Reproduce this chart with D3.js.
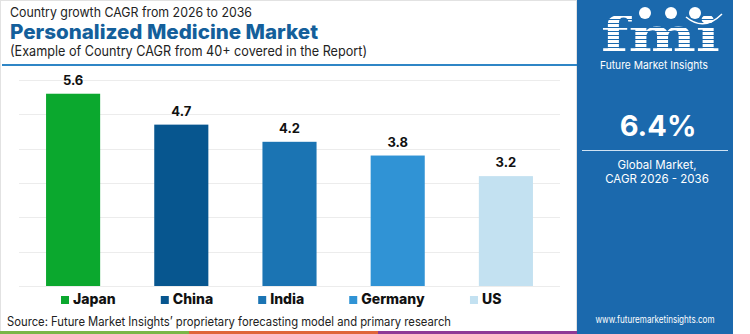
<!DOCTYPE html>
<html>
<head>
<meta charset="utf-8">
<script src="https://cdn.jsdelivr.net/npm/d3@7"></script>
<style>
  body { margin: 0; background: #fff; }
  svg { display: block; font-family: Inter, "Open Sans", sans-serif; }
</style>
</head>
<body>
<div id="chart"></div>
<script>
// country CAGR values
const countries = ["Japan", "China", "India", "Germany", "US"];
const cagr = [5.6, 4.7, 4.2, 3.8, 3.2];
const barColors = ["#0ba82e", "#07568f", "#1b74b3", "#3093d5", "#c3e1f1"];
const yTicks = [0, 1, 2, 3, 4, 5, 6];

const globalCagr = "6.4%";

const width = 750, height = 334;

const svg = d3.select("#chart")
  .append("svg")
  .attr("width", width)
  .attr("height", height);

// frame of the left card
svg.append("rect")
  .attr("x", 0.5).attr("y", 0.5)
  .attr("width", 576).attr("height", 333)
  .attr("fill", "#fff")
  .attr("stroke", "#e2e2e2");

// headings
svg.append("text")
  .attr("x", 10).attr("y", 17)
  .attr("font-size", 13)
  .attr("fill", "#222")
  .attr("textLength", 242).attr("lengthAdjust", "spacingAndGlyphs")
  .text("Country growth CAGR from 2026 to 2036");

svg.append("text")
  .attr("x", 10).attr("y", 39)
  .attr("font-size", 20)
  .attr("font-weight", 800)
  .attr("fill", "#145f9b")
  .attr("textLength", 308).attr("lengthAdjust", "spacingAndGlyphs")
  .text("Personalized Medicine Market");

svg.append("text")
  .attr("x", 10).attr("y", 56)
  .attr("font-size", 14)
  .attr("fill", "#222")
  .attr("textLength", 357).attr("lengthAdjust", "spacingAndGlyphs")
  .text("(Example of Country CAGR from 40+ covered in the Report)");

svg.append("line")
  .attr("x1", 2).attr("x2", 577)
  .attr("y1", 65).attr("y2", 65)
  .attr("stroke", "#2f86c6")
  .attr("stroke-width", 2);

// scales
const x = d3.scaleBand()
  .domain(countries)
  .range([19, 560])
  .paddingInner(0.5)
  .paddingOuter(0.25);

const y = d3.scaleLinear()
  .domain([0, 6])
  .range([286, 80]);

// gridlines
svg.append("g")
  .selectAll("line")
  .data(yTicks)
  .join("line")
  .attr("x1", 19).attr("x2", 560)
  .attr("y1", d => Math.round(y(d)) + 0.5)
  .attr("y2", d => Math.round(y(d)) + 0.5)
  .attr("stroke", "#ececec");

// bars
svg.append("g")
  .selectAll("rect")
  .data(countries)
  .join("rect")
  .attr("x", d => x(d))
  .attr("y", (d, i) => y(cagr[i]))
  .attr("width", x.bandwidth())
  .attr("height", (d, i) => y(0) - y(cagr[i]))
  .attr("fill", (d, i) => barColors[i]);

// value labels
svg.append("g")
  .selectAll("text")
  .data(countries)
  .join("text")
  .attr("x", d => x(d) + x.bandwidth() / 2)
  .attr("y", (d, i) => y(cagr[i]) - 9)
  .attr("text-anchor", "middle")
  .attr("font-size", 13)
  .attr("font-weight", 700)
  .attr("fill", "#111")
  .text((d, i) => cagr[i].toFixed(1));

// legend, laid out in a row
const legend = svg.append("g").attr("transform", "translate(61,304)");
const items = legend.selectAll("g")
  .data(countries)
  .join("g");
items.append("rect")
  .attr("width", 8).attr("height", 8)
  .attr("y", -8)
  .attr("fill", (d, i) => barColors[i]);
items.append("text")
  .attr("x", 12)
  .attr("font-size", 14)
  .attr("font-weight", 800)
  .attr("fill", "#111")
  .text(d => d);

let offset = 0;
items.each(function () {
  const w = this.getBBox().width;
  d3.select(this).attr("transform", `translate(${offset},0)`);
  offset += w + 45;
});

// source note
svg.append("text")
  .attr("x", 7).attr("y", 326)
  .attr("font-size", 12.5)
  .attr("fill", "#222")
  .attr("textLength", 444).attr("lengthAdjust", "spacingAndGlyphs")
  .text("Source: Future Market Insights\u2019 proprietary forecasting model and primary research");

// bottom colour stripe
const stripe = [["#7ab648", 0, 189], ["#e0663a", 189, 378], ["#8e3a96", 378, 577]];
svg.append("g")
  .selectAll("rect")
  .data(stripe)
  .join("rect")
  .attr("x", d => d[1])
  .attr("y", 331)
  .attr("width", d => d[2] - d[1])
  .attr("height", 3)
  .attr("fill", d => d[0]);

// side panel
const panel = svg.append("g");
panel.append("rect")
  .attr("x", 577).attr("y", 0)
  .attr("width", 156).attr("height", height)
  .attr("fill", "#1b69ad");

// striped logo lettering
const defs = svg.append("defs");
const pat = defs.append("pattern")
  .attr("id", "stripes")
  .attr("patternUnits", "userSpaceOnUse")
  .attr("width", 10).attr("height", 4);
pat.append("rect").attr("width", 10).attr("height", 4).attr("fill", "#1b69ad");
pat.append("rect").attr("width", 10).attr("height", 3).attr("fill", "#fff");

panel.append("text")
  .attr("x", 601).attr("y", 51)
  .attr("font-family", "DejaVu Serif")
  .attr("font-size", 46)
  .attr("font-weight", 700)
  .attr("fill", "url(#stripes)")
  .attr("textLength", 119).attr("lengthAdjust", "spacingAndGlyphs")
  .text("fmi");

// small globe icons above the logo
const icons = [645, 671, 695];
panel.selectAll("circle.icon")
  .data(icons)
  .join("circle")
  .attr("class", "icon")
  .attr("cx", d => d).attr("cy", 13)
  .attr("r", 6)
  .attr("fill", "#fff");
panel.append("path")
  .attr("d", "M686,17 Q704,32 722,14")
  .attr("fill", "none")
  .attr("stroke", "#fff")
  .attr("stroke-width", 1.5);

panel.append("text")
  .attr("x", 654).attr("y", 69)
  .attr("text-anchor", "middle")
  .attr("font-size", 11)
  .attr("fill", "#fff")
  .attr("textLength", 108).attr("lengthAdjust", "spacingAndGlyphs")
  .text("Future Market Insights");

panel.append("text")
  .attr("x", 658).attr("y", 136)
  .attr("text-anchor", "middle")
  .attr("font-size", 29)
  .attr("font-weight", 700)
  .attr("fill", "#fff")
  .text(globalCagr);

panel.append("line")
  .attr("x1", 582).attr("x2", 728)
  .attr("y1", 150.5).attr("y2", 150.5)
  .attr("stroke", "#cfe2f3")
  .attr("stroke-width", 1);

panel.append("text")
  .attr("x", 657).attr("y", 169)
  .attr("text-anchor", "middle")
  .attr("font-size", 11.5)
  .attr("fill", "#fff")
  .text("Global Market,");

panel.append("text")
  .attr("x", 657).attr("y", 183)
  .attr("text-anchor", "middle")
  .attr("font-size", 11.5)
  .attr("fill", "#fff")
  .text("CAGR 2026 - 2036");

panel.append("text")
  .attr("x", 655).attr("y", 323)
  .attr("text-anchor", "middle")
  .attr("font-size", 10)
  .attr("fill", "#fff")
  .attr("textLength", 119).attr("lengthAdjust", "spacingAndGlyphs")
  .text("www.futuremarketinsights.com");
</script>
</body>
</html>
